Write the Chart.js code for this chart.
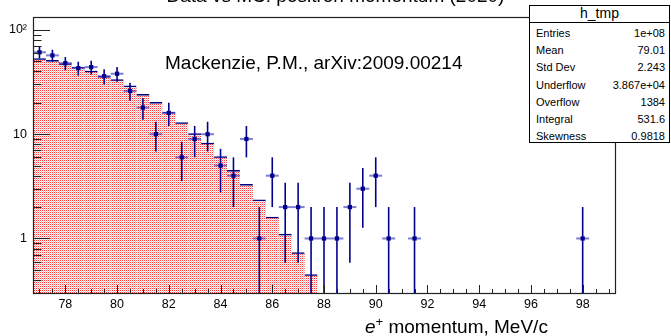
<!DOCTYPE html>
<html>
<head>
<meta charset="utf-8">
<script src="https://cdn.jsdelivr.net/npm/chart.js@4"></script>
<style>
  html, body { margin: 0; padding: 0; background: #fff; }
  #wrap { position: relative; width: 671px; height: 336px; overflow: hidden; font-family: 'Liberation Sans', Arial, Helvetica, sans-serif; color: #000; }
  #chart { position: absolute; left: 0; top: 0; }
  .title { position: absolute; left: 0; width: 671px; top: -14px; text-align: center; font-size: 19px; line-height: 19px; }
  .note { position: absolute; left: 165px; top: 53px; font-size: 19px; line-height: 19px; white-space: nowrap; }
  .xtitle { position: absolute; left: 365px; top: 317px; font-size: 19px; line-height: 19px; white-space: nowrap; }
  .xtitle sup { font-size: 13px; vertical-align: 7px; line-height: 0; }
  .stats { position: absolute; left: 529px; top: 5px; width: 141px; height: 138px; border: 1px solid #000; background: #fff; box-sizing: border-box; }
  .stats .hdr { height: 16px; border-bottom: 1px solid #000; text-align: center; font-size: 14px; line-height: 15px; }
  .stats .row { display: flex; justify-content: space-between; height: 17.2px; line-height: 17.2px; font-size: 11px; padding: 0 4px 0 6px; }
  .stats .rows { padding-top: 2px; }
</style>
</head>
<body>
<div id="wrap">
  <canvas id="chart" width="671" height="336"></canvas>
  <div class="title">Data vs MC: positron momentum (2020)</div>
  <div class="note">Mackenzie, P.M., arXiv:2009.00214</div>
  <div class="xtitle"><i>e</i><sup>+</sup> momentum, MeV/c</div>
  <div class="stats">
    <div class="hdr">h_tmp</div>
    <div class="rows" id="statRows"></div>
  </div>
</div>
<script>
// MC histogram: bin centres (bin width 0.5 MeV/c) and contents
const mcCenters = [77, 77.5, 78, 78.5, 79, 79.5, 80, 80.5, 81, 81.5, 82, 82.5,
                   83, 83.5, 84, 84.5, 85, 85.5, 86, 86.5, 87, 87.5];
const mcValues = [53, 51, 47.5, 44, 40.3, 35.9, 33.4, 29, 24.1, 20.2, 16.3, 12.9,
                  10.1, 8.2, 6.1, 4.5, 3.3, 2.35, 1.6, 1.1, 0.73, 0.45];

// data points (counts)
const dataX = [77, 77.5, 78, 78.5, 79, 79.5, 80, 80.5, 81, 81.5, 82, 82.5, 83, 83.5,
               84, 84.5, 85, 85.5, 86, 86.5, 87, 87.5, 88, 88.5, 89, 89.5, 90, 90.5, 91.5, 98];
const dataY = [61, 57, 48, 43, 44, 36, 38, 26, 18, 10, 16, 6, 9, 10,
               5, 4, 9, 1, 4, 2, 2, 1, 1, 1, 2, 3, 4, 1, 1, 1];

const binHalf = 0.25;
const xMajorTicks = [78, 80, 82, 84, 86, 88, 90, 92, 94, 96, 98];
const yMajorTicks = [1, 10, 100];
const yTickLabels = ['1', '10', '10\u00B2'];

const statNames = ['Entries', 'Mean', 'Std Dev', 'Underflow', 'Overflow', 'Integral', 'Skewness'];
const statValues = ['1e+08', '79.01', '2.243', '3.867e+04', '1384', '531.6', '0.9818'];

document.getElementById('statRows').innerHTML = statNames.map((n, i) =>
  `<div class="row"><span>${n}</span><span>${statValues[i]}</span></div>`).join('');

// red dotted fill like the ROOT pattern
function makePattern() {
  const c = document.createElement('canvas');
  c.width = 2; c.height = 2;
  const g = c.getContext('2d');
  g.fillStyle = '#ffffff';
  g.fillRect(0, 0, 2, 2);
  g.fillStyle = '#ff3c3c';
  g.fillRect(0, 0, 1, 1);
  g.fillStyle = '#ffc0c0';
  g.fillRect(1, 1, 1, 1);
  return g.createPattern(c, 'repeat');
}

const FRAME = { left: 33, top: 17, right: 615, bottom: 293 };

const rootPlugin = {
  id: 'rootStyle',
  beforeDatasetDraw(chart, args) {
    if (chart.data.datasets[args.index].label !== 'data') return;
    const { ctx, chartArea, scales: { x, y } } = chart;
    ctx.save();
    ctx.beginPath();
    ctx.rect(chartArea.left, chartArea.top, chartArea.right - chartArea.left, chartArea.bottom - chartArea.top);
    ctx.clip();
    dataX.forEach((xv, i) => {
      const v = dataY[i];
      const err = Math.sqrt(v);
      const px = x.getPixelForValue(xv);
      const py = y.getPixelForValue(v);
      const lo = v - err > 0 ? y.getPixelForValue(v - err) : chartArea.bottom;
      const hi = y.getPixelForValue(v + err);
      ctx.strokeStyle = 'rgba(70,70,190,0.7)';
      ctx.lineWidth = 2;
      ctx.beginPath();
      ctx.moveTo(x.getPixelForValue(xv - binHalf), py);
      ctx.lineTo(x.getPixelForValue(xv + binHalf), py);
      ctx.stroke();
      ctx.strokeStyle = '#00008c';
      ctx.lineWidth = 1.6;
      ctx.beginPath();
      ctx.moveTo(px, lo);
      ctx.lineTo(px, hi);
      ctx.stroke();
    });
    ctx.restore();
  },
  afterDraw(chart) {
    const { ctx, chartArea: a, scales: { x, y } } = chart;
    ctx.save();
    ctx.strokeStyle = '#222';
    ctx.lineWidth = 1;
    // x ticks, inward
    for (let v = Math.ceil(x.min * 2) / 2; v <= x.max; v += 0.5) {
      const px = Math.round(x.getPixelForValue(v)) + 0.5;
      const len = xMajorTicks.includes(v) ? 8 : 4;
      ctx.beginPath();
      ctx.moveTo(px, a.bottom);
      ctx.lineTo(px, a.bottom - len);
      ctx.stroke();
    }
    // y ticks, inward
    [0.1, 1, 10, 100].forEach(dec => {
      for (let m = 1; m <= 9; m++) {
        const v = m * dec;
        if (v < y.min || v > y.max) continue;
        const py = Math.round(y.getPixelForValue(v)) + 0.5;
        const len = m === 1 ? 17 : 8.5;
        ctx.beginPath();
        ctx.moveTo(a.left, py);
        ctx.lineTo(a.left + len, py);
        ctx.stroke();
      }
    });
    // frame
    ctx.lineWidth = 1.2;
    ctx.strokeRect(a.left + 0.5, a.top + 0.5, a.right - a.left, a.bottom - a.top);
    ctx.restore();
  }
};

new Chart(document.getElementById('chart'), {
  data: {
    datasets: [
      {
        type: 'bar',
        label: 'MC',
        order: 2,
        data: mcCenters.map((c, i) => ({ x: c, y: mcValues[i] })),
        backgroundColor: makePattern(),
        borderColor: '#000080',
        borderWidth: { top: 1.5, left: 0, right: 0, bottom: 0 },
        borderSkipped: false,
        barPercentage: 1,
        categoryPercentage: 1,
        inflateAmount: 0.4
      },
      {
        type: 'scatter',
        label: 'data',
        order: 1,
        data: dataX.map((v, i) => ({ x: v, y: dataY[i] })),
        pointStyle: 'rect',
        pointRadius: 3,
        pointBackgroundColor: '#00008c',
        pointBorderColor: '#00008c',
        pointBorderWidth: 0,
        showLine: false
      }
    ]
  },
  options: {
    responsive: false,
    devicePixelRatio: 1,
    animation: false,
    events: [],
    layout: { padding: { top: FRAME.top, right: 671 - FRAME.right, left: 0, bottom: 0 } },
    plugins: { legend: { display: false }, tooltip: { enabled: false }, title: { display: false } },
    scales: {
      x: {
        type: 'linear',
        min: 76.75,
        max: 99.25,
        offset: false,
        grid: { display: false, drawTicks: false },
        border: { display: false },
        afterBuildTicks: (axis) => { axis.ticks = xMajorTicks.map(v => ({ value: v })); },
        afterFit: (axis) => { axis.height = 336 - FRAME.bottom; },
        ticks: {
          autoSkip: false, maxRotation: 0, padding: 4, color: '#000',
          font: { family: "'Liberation Sans', Arial, sans-serif", size: 12.5 },
          callback: (v) => String(v)
        }
      },
      y: {
        type: 'logarithmic',
        min: 0.3,
        max: 133,
        grid: { display: false, drawTicks: false },
        border: { display: false },
        afterBuildTicks: (axis) => { axis.ticks = yMajorTicks.map(v => ({ value: v })); },
        afterFit: (axis) => { axis.width = FRAME.left; },
        ticks: {
          autoSkip: false, padding: 6, color: '#000',
          font: { family: "'Liberation Sans', Arial, sans-serif", size: 12.5 },
          callback: (v) => yTickLabels[yMajorTicks.indexOf(v)] ?? ''
        }
      }
    }
  },
  plugins: [rootPlugin]
});
</script>
</body>
</html>
